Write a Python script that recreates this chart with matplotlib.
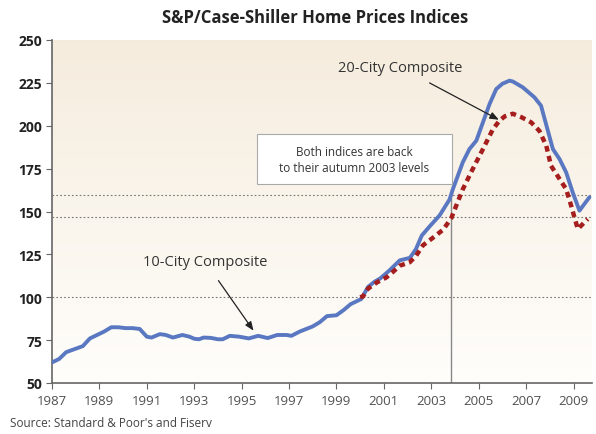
import numpy as np
import matplotlib
matplotlib.use("Agg")
import matplotlib.pyplot as plt
from matplotlib.patches import Rectangle

# ---- data ----
years_10 = [1987.0, 1987.3, 1987.6, 1988.0, 1988.3, 1988.6, 1988.9, 1989.2, 1989.5, 1989.8,
            1990.1, 1990.4, 1990.7, 1991.0, 1991.2, 1991.55, 1991.8, 1992.1, 1992.5, 1992.8,
            1993.0, 1993.2, 1993.4, 1993.7, 1994.0, 1994.2, 1994.5, 1994.9, 1995.3, 1995.7,
            1996.1, 1996.5, 1996.9, 1997.1, 1997.45, 1998.0, 1998.3, 1998.6, 1999.0, 1999.3,
            1999.6, 2000.05, 2000.33, 2000.6, 2000.85, 2001.24, 2001.67, 2002.1, 2002.35, 2002.6,
            2002.93, 2003.35, 2003.77, 2003.91, 2004.33, 2004.61, 2004.9, 2005.18, 2005.46, 2005.74,
            2006.0, 2006.3, 2006.44, 2006.86, 2007.35, 2007.63, 2007.9, 2008.13, 2008.41, 2008.69,
            2008.97, 2009.25, 2009.67]
vals_10 = [62, 64, 68, 70, 71.5, 76, 78, 80, 82.5, 82.5,
           82, 82, 81.5, 77, 76.5, 78.5, 78, 76.5, 78, 77,
           75.8, 75.5, 76.5, 76.3, 75.5, 75.5, 77.5, 77, 76, 77.5,
           76.2, 78, 78, 77.5, 80, 83, 85.5, 89, 89.5, 92.5,
           96, 99, 106, 109, 111, 115.7, 121.5, 123, 128, 136,
           141.3, 147.7, 157, 163, 178.7, 186.4, 191.3, 202, 212.7, 221.4,
           224.5, 226.3, 225.8, 222.4, 216.6, 211.7, 198, 186.4, 180.6, 172.8,
           161, 150.5, 158.3]

years_20 = [2000.0, 2000.12, 2000.33, 2000.7, 2001.1, 2001.4, 2001.67, 2002.09, 2002.35, 2002.65,
            2003.07, 2003.5, 2003.84, 2004.33, 2004.75, 2005.18, 2005.6, 2005.88, 2006.1, 2006.44,
            2006.8, 2007.21, 2007.56, 2007.85, 2008.05, 2008.41, 2008.69, 2008.9, 2009.18, 2009.6]
vals_20 = [100, 100.5, 105, 108.6, 111.5, 115, 118.4, 120.4, 124, 130.3,
           134.7, 139.4, 146, 163, 174.8, 186.4, 198, 203, 205.5, 207,
           205, 202, 197, 188.4, 176.7, 169, 163, 153.4, 139.8, 145.6]

x_ticks = [1987, 1989, 1991, 1993, 1995, 1997, 1999, 2001, 2003, 2005, 2007, 2009]
y_ticks = [50, 75, 100, 125, 150, 175, 200, 225, 250]
ref_levels = [100, 147, 159.5]
autumn_2003 = 2003.84

plt.rcParams['font.family'] = ['Open Sans', 'DejaVu Sans']

fig = plt.figure(figsize=(5.96, 4.35), dpi=100)
ax = fig.add_axes([52/596, 1-384/435, 540/596, 343/435])

# gradient background
top = np.array([0.961, 0.925, 0.866])
bot = np.array([1.0, 0.995, 0.985])
t = np.linspace(0, 1, 256)[:, None]
grad = (top * (1 - t) + bot * t)[:, None, :]
ax.imshow(grad, extent=[0, 1, 0, 1], transform=ax.transAxes, aspect='auto', zorder=0)

ax.set_xlim(1987, 2009.78)
ax.set_ylim(50, 250)

for lv in ref_levels:
    ax.axhline(lv, color='#777777', lw=0.8, ls=(0, (1.5, 2)), zorder=1)
ax.plot([autumn_2003, autumn_2003], [50, 160], color='#888888', lw=1, zorder=1)

ax.plot(years_10, vals_10, color='#5a78c2', lw=2.8, zorder=3, solid_capstyle='round', solid_joinstyle='round')
ax.plot(years_20, vals_20, color='#a51d1d', lw=3.2, ls=(0, (1.3, 1.0)), zorder=4)

# annotations
ax.annotate('20-City Composite', xy=(2005.85, 203.5), xytext=(2001.7, 234),
            ha='center', va='center', fontsize=10.5, color='#333333',
            arrowprops=dict(arrowstyle='-|>,head_length=0.5,head_width=0.2', color='#222222', lw=0.9,
                            shrinkA=8, shrinkB=0), zorder=5)
ax.annotate('10-City Composite', xy=(1995.5, 80.5), xytext=(1993.45, 121),
            ha='center', va='center', fontsize=10.5, color='#333333',
            arrowprops=dict(arrowstyle='-|>,head_length=0.5,head_width=0.2', color='#222222', lw=0.9,
                            shrinkA=8, shrinkB=0), zorder=5)

ax.add_patch(Rectangle((0.38, 0.58), 0.361, 0.146, transform=ax.transAxes,
                       facecolor='white', edgecolor='#aaaaaa', lw=0.8, zorder=5))
ax.text(0.5595, 0.653, 'Both indices are back\nto their autumn 2003 levels', transform=ax.transAxes,
        ha='center', va='center', fontsize=8.5, color='#333333', linespacing=1.3, zorder=6)

# axes styling
for s in ['top', 'right']:
    ax.spines[s].set_visible(False)
for s in ['left', 'bottom']:
    ax.spines[s].set_color('#666666')
    ax.spines[s].set_linewidth(1.2)
ax.set_xticks(x_ticks)
ax.set_yticks(y_ticks)
ax.tick_params(axis='y', direction='out', length=4, color='#666666', labelsize=10, pad=3)
ax.tick_params(axis='x', direction='out', length=4, color='#666666', labelsize=9.5, labelcolor='#505050', pad=4)
for lab in ax.get_yticklabels():
    lab.set_fontweight('bold')
    lab.set_color('#222222')

fig.text(0.528, 0.958, 'S&P/Case-Shiller Home Prices Indices', ha='center', va='center',
         fontsize=12, fontweight='bold', color='#222222')
fig.text(10/596, 1-424/435, "Source: Standard & Poor's and Fiserv", ha='left', va='center',
         fontsize=8.5, color='#444444')

fig.savefig('out.png', dpi=100)
